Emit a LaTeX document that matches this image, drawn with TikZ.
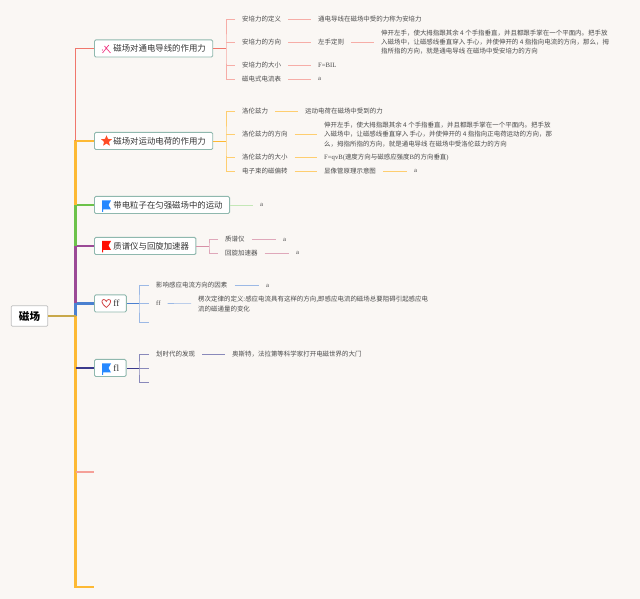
\documentclass[tikz,border=0pt]{standalone}
\usepackage{fontspec}
\setmainfont{Liberation Serif}
\newfontfamily\cjk{Noto Sans CJK SC}
\usetikzlibrary{shapes.geometric}
\definecolor{paper}{HTML}{FAF7F4}
\definecolor{boxline}{HTML}{8FB8AE}
\definecolor{inktext}{HTML}{4A4A4A}
\definecolor{redl}{HTML}{F0776C}
\definecolor{orangel}{HTML}{FDB933}
\definecolor{greenl}{HTML}{6CC24A}
\definecolor{purplel}{HTML}{9B4A96}
\definecolor{bluel}{HTML}{4A80D0}
\definecolor{navyl}{HTML}{3B3A8C}
\definecolor{rootl}{HTML}{C8A84A}
\tikzset{%
    topic/.style={draw=boxline, fill=white, rounded corners=1pt, line width=.7pt,
    	anchor=west, minimum height=12.8pt, inner xsep=5.2pt, inner ysep=0pt,
    	text=black!80, font=\fontsize{6.3}{7}\selectfont\cjk},
    root/.style={draw=black!25, fill=white, rounded corners=1pt, line width=.6pt,
    	minimum width=27.5pt, minimum height=15.5pt, inner sep=0pt,
    	font=\fontsize{7.9}{9}\selectfont\cjk\bfseries},
    leaf/.style={anchor=west, inner xsep=5.2pt, inner ysep=0pt, text=inktext, align=left,
    	font=\fontsize{4.85}{7}\selectfont\cjk},
    latin/.style={leaf, font=\fontsize{5}{7}\selectfont},
    trunk/.style={line width=1.9pt},
    thin/.style={line width=.45pt}
}

\begin{document}
\begin{tikzpicture}[x=.75pt, y=-.75pt]
  \useasboundingbox [fill=paper] (0,0) rectangle (640,599);

  % main line
  \coordinate (c0) at (75.5,316);
  \coordinate (c1) at (94,48.5);
  \coordinate (c2) at (94,141);
  \coordinate (c3) at (94,205);
  \coordinate (c4) at (94,246);
  \coordinate (c5) at (94,303.5);
  \coordinate (c6) at (94,368);
  \coordinate (c7) at (94,472);
  \coordinate (c8) at (94,587);

  \node (m) [root] at (29.5,316) {磁场};
  \draw [orangel, trunk] (c0) |- (c8);
  \draw [navyl, line width=.8pt] (c0 |- c6) -- (c6);
  \draw [redl!70, line width=.8pt] (c0 |- c7) -- (c7);
  \draw [bluel, trunk] (c0) |- (c5);
  \draw [purplel, trunk] (c0 |- c5) |- (c4);
  \draw [greenl, trunk] (c0 |- c4) |- (c3);
  \draw [orangel, trunk] (c0 |- c3) |- (c2);
  \draw [redl, line width=1.1pt] (c0 |- c2) |- (c1);
  \draw [rootl, trunk] (m) -- (c0);

  % topics
  \node (t1) [topic] at (c1) {\hspace*{9pt}磁场对通电导线的作用力};
  \node (t2) [topic] at (c2) {\hspace*{9pt}磁场对运动电荷的作用力};
  \node (t3) [topic] at (c3) {\hspace*{9pt}带电粒子在匀强磁场中的运动};
  \node (t4) [topic] at (c4) {\hspace*{9pt}质谱仪与回旋加速器};
  \node (t5) [topic, font=\fontsize{7}{8}\selectfont] at (c5) {\hspace*{9pt}ff};
  \node (t6) [topic, font=\fontsize{7}{8}\selectfont] at (c6) {\hspace*{9pt}fl};

  % icons
  \draw [magenta!70!red!80, line width=.5pt] (102.5,53) -- (108,46) (104.5,46) -- (110.5,53);
  \fill [magenta!70!red!80] (106,49) circle (.7) (108.5,45.5) circle (.6) (102.5,50) circle (.6);
  \node (s2) [star, star points=5, star point ratio=2.2, fill=red!65!orange!85, inner sep=0pt, minimum size=8.5pt] at (106.5,141) {};
  \fill [blue!55!cyan!85] (102,200.5) -- (111,200.5) -- (108.5,205) -- (111,209.5) -- (103,209.5) -- (103,212) -- (102,212) -- cycle;
  \fill [red!90!orange] (102,241) -- (111,241) -- (108.5,245.5) -- (111,250) -- (103,250) -- (103,252.5) -- (102,252.5) -- cycle;
  \draw [red!75!black!75, line width=.55pt] (106.3,307.5) .. controls (101,303.5) and (101,299.5) .. (103.8,299.5)
    .. controls (105,299.5) and (106,300.5) .. (106.3,301.5)
    .. controls (106.6,300.5) and (107.6,299.5) .. (108.8,299.5)
    .. controls (111.6,299.5) and (111.6,303.5) .. (106.3,307.5);
  \fill [blue!55!cyan!85] (102,363.5) -- (111,363.5) -- (108.5,368) -- (111,372.5) -- (103,372.5) -- (103,375) -- (102,375) -- cycle;

  % first branch
  \node (a1) [leaf] at (235,19) {安培力的定义};
  \node (a2) [leaf] at (235,42) {安培力的方向};
  \node (a3) [leaf] at (235,65.5) {安培力的大小};
  \node (a4) [leaf] at (235,79) {磁电式电流表};
  \node (a1x) [leaf] at (311,19) {通电导线在磁场中受的力称为安培力};
  \node (a2x) [leaf] at (311,42) {左手定则};
  \node (a2y) [leaf] at (374,42) {伸开左手，使大拇指跟其余 4 个手指垂直，并且都跟手掌在一个平面内。把手放\\
    入磁场中，让磁感线垂直穿入 手心，并使伸开的 4 指指向电流的方向，那么，拇\\
    指所指的方向，就是通电导线 在磁场中受安培力的方向};
  \node (a3x) [latin] at (311,65.5) {F=BIL};
  \node (a4x) [latin] at (311,79) {a};
  \coordinate (ab) at (226,48.5);
  \draw [redl, line width=.7pt] (t1) -- (ab);
  \draw [redl!60, thin] (a1.west) -| (ab) |- (a4.west);
  \draw [redl!60, thin] (ab |- a2) -- (a2.west);
  \draw [redl!60, thin] (ab |- a3) -- (a3.west);
  \draw [redl!60, thin] (a1) edge (a1x);
  \draw [redl!60, thin] (a2) edge (a2x);
  \draw [redl!60, thin] (a2x) edge (a2y);
  \draw [redl!60, thin] (a3) edge (a3x);
  \draw [redl!60, thin] (a4) edge (a4x);

  % second branch
  \node (b1) [leaf] at (235,111) {洛伦兹力};
  \node (b2) [leaf] at (235,134.5) {洛伦兹力的方向};
  \node (b3) [leaf] at (235,157) {洛伦兹力的大小};
  \node (b4) [leaf] at (235,171) {电子束的磁偏转};
  \node (b1x) [leaf] at (298,111) {运动电荷在磁场中受到的力};
  \node (b2x) [leaf] at (317,134.5) {伸开左手，使大拇指跟其余 4 个手指垂直，并且都跟手掌在一个平面内。把手放\\
    入磁场中，让磁感线垂直穿入 手心，并使伸开的 4 指指向正电荷运动的方向，那\\
    么，拇指所指的方向，就是通电导线 在磁场中受洛伦兹力的方向};
  \node (b3x) [latin] at (317,157) {F=qvB({\cjk\fontsize{4.85}{7}\selectfont 速度方向与磁感应强度}B{\cjk\fontsize{4.85}{7}\selectfont 的方向垂直})};
  \node (b4x) [leaf] at (317,171) {显像管原理示意图};
  \node (b4y) [latin] at (407,171) {a};
  \coordinate (bb) at (226,141);
  \draw [orangel, line width=.7pt] (t2) -- (bb);
  \draw [orangel!70, thin] (b1.west) -| (bb) |- (b4.west);
  \draw [orangel!70, thin] (bb |- b2) -- (b2.west);
  \draw [orangel!70, thin] (bb |- b3) -- (b3.west);
  \draw [orangel!70, thin] (b1) edge (b1x);
  \draw [orangel!70, thin] (b2) edge (b2x);
  \draw [orangel!70, thin] (b3) edge (b3x);
  \draw [orangel!70, thin] (b4) edge (b4x);
  \draw [orangel!70, thin] (b4x) edge (b4y);

  % third branch
  \node (d1) [latin] at (253,205) {a};
  \draw [greenl!40, line width=.6pt] (t3) edge (d1);

  % fourth branch
  \node (e1) [leaf] at (218,239.5) {质谱仪};
  \node (e2) [leaf] at (218,253) {回旋加速器};
  \node (e1x) [latin] at (276,239.5) {a};
  \node (e2x) [latin] at (289,253) {a};
  \coordinate (eb) at (209,246);
  \draw [purplel!50!redl!70, line width=.6pt] (t4) -- (eb);
  \draw [purplel!50!redl!55, thin] (e1.west) -| (eb) |- (e2.west);
  \draw [purplel!50!redl!55, thin] (e1) edge (e1x);
  \draw [purplel!50!redl!55, thin] (e2) edge (e2x);

  % fifth branch
  \node (f1) [leaf] at (149,285.5) {影响感应电流方向的因素};
  \node (f2) [latin] at (149,303.5) {ff};
  \coordinate (f3) at (149,322);
  \node (f1x) [latin] at (259,285.5) {a};
  \node (f2x) [leaf] at (191,304) {楞次定律的定义:感应电流具有这样的方向,即感应电流的磁场总要阻碍引起感应电\\
    流的磁通量的变化};
  \coordinate (fb) at (139,303.5);
  \draw [bluel, line width=.6pt] (t5) -- (fb);
  \draw [bluel!55, thin] (f1.west) -| (fb) |- (f3);
  \draw [bluel!55, thin] (fb) -- (f2.west);
  \draw [bluel!55, thin] (f1) edge (f1x);
  \draw [bluel!55, thin] (f2) edge (f2x);

  % sixth branch
  \node (g1) [leaf] at (149,354.5) {划时代的发现};
  \node (g1x) [leaf] at (225,354.5) {奥斯特，法拉第等科学家打开电磁世界的大门};
  \coordinate (g2) at (149,368);
  \coordinate (g3) at (149,382);
  \coordinate (gb) at (139,368);
  \draw [navyl, line width=.6pt] (t6) -- (gb);
  \draw [navyl!60, thin] (g1.west) -| (gb) |- (g3);
  \draw [navyl!60, thin] (gb) -- (g2);
  \draw [navyl!60, thin] (g1) edge (g1x);
\end{tikzpicture}
\end{document}
